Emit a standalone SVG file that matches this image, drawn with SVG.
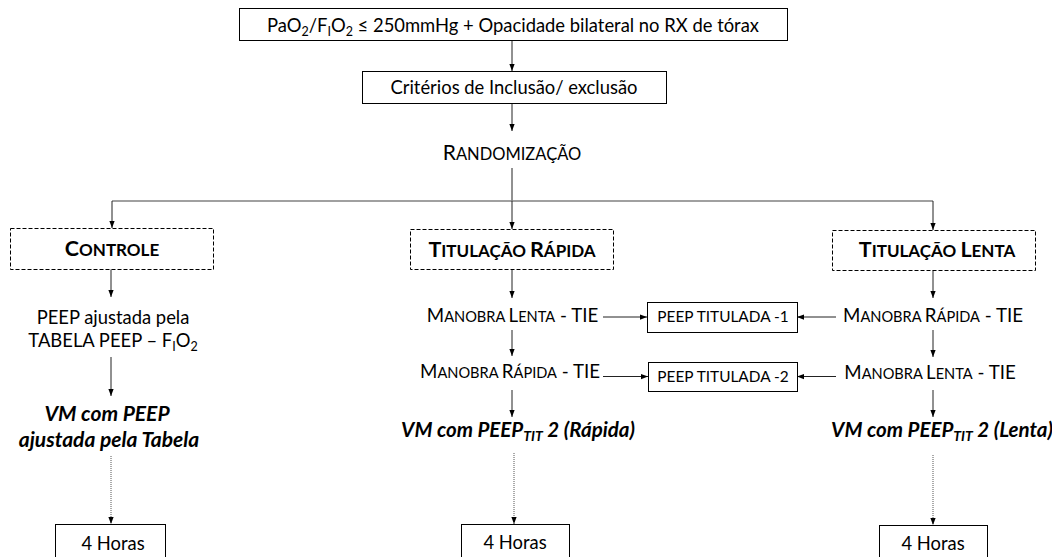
<svg xmlns="http://www.w3.org/2000/svg" width="1052" height="557" viewBox="0 0 1052 557">
<style>
text{font-family:Lato,"Open Sans","Liberation Sans",sans-serif;fill:#000;}
.t{font-size:18.4px;text-anchor:middle;}
.sc{font-size:18.7px;text-anchor:middle;}
.sc .s{font-size:14.6px;}
.rd{font-size:21px;text-anchor:middle;}
.rd .s{font-size:16.5px;}
.hd{font-size:21.5px;font-weight:bold;text-anchor:middle;}
.hd .s{font-size:17px;}
.bi{font-size:20.5px;font-weight:bold;font-style:italic;text-anchor:middle;}
.bil{font-size:21px;font-weight:bold;font-style:italic;text-anchor:middle;}
.pt{font-size:15.4px;text-anchor:middle;}
.box{fill:#fff;stroke:#000;stroke-width:1;}
.dbox{fill:#fff;stroke:#000;stroke-width:1;stroke-dasharray:4 2;}
.ln{fill:none;stroke:#222;stroke-width:1;}
.ar{fill:none;stroke:#222;stroke-width:1;marker-end:url(#ah);}
.gr{fill:none;stroke:#808080;stroke-width:1.5;}
.dot{fill:none;stroke:#555;stroke-width:1;stroke-dasharray:1 1;marker-end:url(#ah);}
.sub{font-size:12.5px;}
.bsub{font-size:14px;}
</style>
<defs>
<marker id="ah" viewBox="0 0 8 8" refX="8" refY="4" markerWidth="7" markerHeight="7" markerUnits="userSpaceOnUse" orient="auto">
<path d="M0,1 L8,4 L0,7 Z" fill="#000"/>
</marker>
</defs>
<rect width="1052" height="557" fill="#fff"/>
<g id="connectors">
<path class="ar" d="M512,41 V71"/>
<path class="ar" d="M512,103 V131"/>
<path class="ln" d="M512,168 V201"/>
<path class="gr" d="M112,201 H933"/>
<path class="ar" d="M112,201 V228"/>
<path class="ar" d="M512,201 V229"/>
<path class="ar" d="M933,201 V230"/>
<path class="ar" d="M111,269 V297"/>
<path class="ar" d="M111,357 V396"/>
<path class="dot" d="M111,456 V524"/>
<path class="ar" d="M512,269 V298"/>
<path class="ar" d="M603,317 H647"/>
<path class="ar" d="M512,330 V356"/>
<path class="ar" d="M603,376.5 H648"/>
<path class="ar" d="M512,390 V417"/>
<path class="dot" d="M514,453 V524"/>
<path class="ar" d="M836,317 H797"/>
<path class="ar" d="M933,270 V298"/>
<path class="ar" d="M933,330 V357"/>
<path class="ar" d="M836,376.5 H797"/>
<path class="ar" d="M933,390 V417"/>
<path class="dot" d="M933,455 V525"/>
</g>
<g id="n-inclusao">
<rect class="box" x="239.5" y="8.5" width="548" height="32"/>
<text class="t" x="513" y="32">PaO<tspan class="sub" dy="4">2</tspan><tspan dy="-4">/F</tspan><tspan class="sub" dy="4">I</tspan><tspan dy="-4">O</tspan><tspan class="sub" dy="4">2</tspan><tspan dy="-4"> ≤ 250mmHg + Opacidade bilateral no RX de tórax</tspan></text>
</g>
<g id="n-criterios">
<rect class="box" x="362.5" y="71.5" width="304" height="32"/>
<text class="t" x="514" y="94">Critérios de Inclusão/ exclusão</text>
</g>
<g id="n-random">
<text class="rd" x="512" y="160">R<tspan class="s">ANDOMIZAÇÃO</tspan></text>
</g>
<g id="n-controle">
<rect class="dbox" x="10.5" y="228.5" width="203" height="41"/>
<text class="hd" x="112" y="256">C<tspan class="s">ONTROLE</tspan></text>
</g>
<g id="n-peep-tabela">
<text class="t" x="113" y="324">PEEP ajustada pela</text>
<text class="t" x="113" y="347">TABELA PEEP – F<tspan class="sub" dy="4">I</tspan><tspan dy="-4">O</tspan><tspan class="sub" dy="4">2</tspan></text>
</g>
<g id="n-vm-tabela">
<text class="bil" x="107" y="421">VM com PEEP</text>
<text class="bil" x="109" y="447">ajustada pela Tabela</text>
</g>
<g id="n-4h-1">
<rect class="box" x="55.5" y="524.5" width="110" height="40"/>
<text class="t" x="113" y="550">4 Horas</text>
</g>
<g id="n-tit-rapida">
<rect class="dbox" x="410.5" y="229.5" width="203" height="40"/>
<text class="hd" x="512" y="257">T<tspan class="s">ITULAÇÃO </tspan>R<tspan class="s">ÁPIDA</tspan></text>
</g>
<g id="n-r-lenta">
<text class="sc" x="512.5" y="322">M<tspan class="s">ANOBRA </tspan>L<tspan class="s">ENTA</tspan> - TIE</text>
</g>
<g id="n-r-rapida">
<text class="sc" x="510" y="378">M<tspan class="s">ANOBRA </tspan>R<tspan class="s">ÁPIDA</tspan> - TIE</text>
</g>
<g id="n-vm-rapida">
<text class="bi" x="518" y="437">VM com PEEP<tspan class="bsub" dy="4">TIT</tspan><tspan dy="-4"> 2 (Rápida)</tspan></text>
</g>
<g id="n-4h-2">
<rect class="box" x="461.5" y="524.5" width="108" height="40"/>
<text class="t" x="515" y="549">4 Horas</text>
</g>
<g id="n-peep1">
<rect class="box" x="647.5" y="302.5" width="150" height="30"/>
<text class="pt" x="723" y="322">PEEP TITULADA -1</text>
</g>
<g id="n-peep2">
<rect class="box" x="648.5" y="362.5" width="149" height="29"/>
<text class="pt" x="723" y="382">PEEP TITULADA -2</text>
</g>
<g id="n-tit-lenta">
<rect class="dbox" x="832.5" y="230.5" width="203" height="40"/>
<text class="hd" x="937" y="257">T<tspan class="s">ITULAÇÃO </tspan>L<tspan class="s">ENTA</tspan></text>
</g>
<g id="n-l-rapida">
<text class="sc" x="933" y="322">M<tspan class="s">ANOBRA </tspan>R<tspan class="s">ÁPIDA</tspan> - TIE</text>
</g>
<g id="n-l-lenta">
<text class="sc" x="930" y="379">M<tspan class="s">ANOBRA </tspan>L<tspan class="s">ENTA</tspan> - TIE</text>
</g>
<g id="n-vm-lenta">
<text class="bi" x="942" y="437">VM com PEEP<tspan class="bsub" dy="4">TIT</tspan><tspan dy="-4"> 2 (Lenta)</tspan></text>
</g>
<g id="n-4h-3">
<rect class="box" x="879.5" y="525.5" width="108" height="40"/>
<text class="t" x="933" y="550">4 Horas</text>
</g>
</svg>
